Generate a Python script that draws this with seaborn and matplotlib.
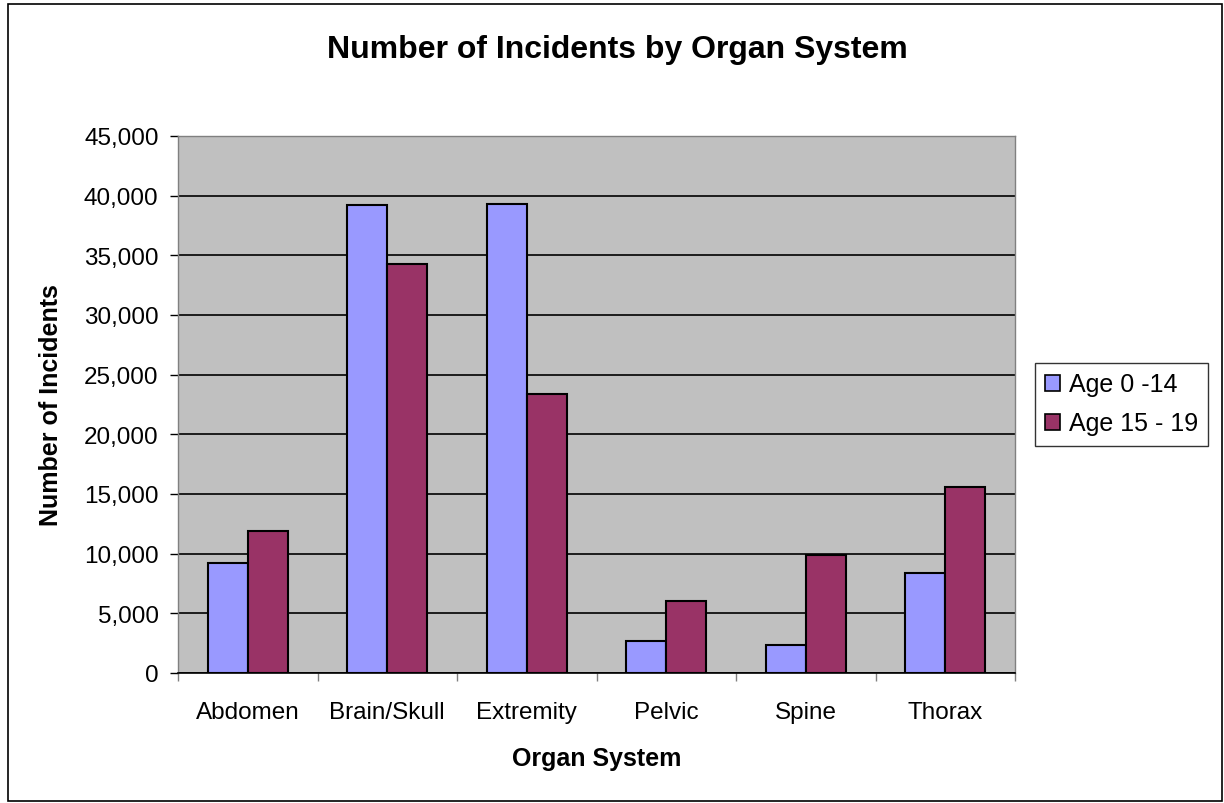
import matplotlib
matplotlib.use("Agg")
import matplotlib.pyplot as plt
import matplotlib.patches as mpatches
import matplotlib.ticker as mticker
import seaborn as sns
import pandas as pd

organs = ["Abdomen", "Brain/Skull", "Extremity", "Pelvic", "Spine", "Thorax"]
age_0_14 = [9200, 39200, 39300, 2700, 2350, 8400]
age_15_19 = [11900, 34300, 23400, 6000, 9900, 15600]
series = ["Age 0 -14", "Age 15 - 19"]
colors = ["#9999FF", "#993366"]

df = pd.DataFrame({
    "organ": organs * 2,
    "group": [series[0]] * len(organs) + [series[1]] * len(organs),
    "value": age_0_14 + age_15_19,
})

sns.set_style("white")
plt.rcParams["font.family"] = ["Liberation Sans", "DejaVu Sans"]
plt.rcParams["text.color"] = "black"
plt.rcParams["axes.labelcolor"] = "black"
plt.rcParams["xtick.color"] = "black"
plt.rcParams["ytick.color"] = "black"

fig = plt.figure(figsize=(12.24, 8.04), dpi=100)
ax = fig.add_axes([178/1224, 130/804, 837/1224, 537/804])
ax.set_facecolor("#C0C0C0")

sns.barplot(data=df, x="organ", y="value", hue="group", palette=colors,
            width=0.571, edgecolor="black", linewidth=1.5, saturation=1,
            ax=ax, zorder=3)

ax.set_ylim(0, 45000)
ax.set_xlim(-0.5, len(organs) - 0.5)
ax.yaxis.set_major_locator(mticker.MultipleLocator(5000))
ax.yaxis.set_major_formatter(mticker.FuncFormatter(lambda v, p: f"{int(v):,}"))
ax.grid(axis="y", color="black", linewidth=1.2, zorder=1)
ax.set_axisbelow(True)

# category boundary ticks on x axis
ax.set_xticks(range(len(organs)))
ax.set_xticklabels(organs, fontsize=17.5)
ax.tick_params(axis="x", which="major", bottom=False, length=0, pad=20)
ax.set_xticks([i - 0.5 for i in range(len(organs) + 1)], minor=True)
ax.tick_params(axis="x", which="minor", bottom=True, length=6, width=1,
               color="#808080", direction="out")
ax.tick_params(axis="y", left=True, labelsize=17.5, length=6, width=1,
               direction="out", color="black", pad=8)

for s in ["top", "right", "left"]:
    ax.spines[s].set_color("#808080")
    ax.spines[s].set_linewidth(1)
ax.spines["bottom"].set_color("black")
ax.spines["bottom"].set_linewidth(1.2)

ax.set_xlabel("Organ System", fontsize=18, fontweight="bold", labelpad=17)
ax.set_ylabel("Number of Incidents", fontsize=18, fontweight="bold", labelpad=15)
fig.text(617/1224, 1 - 50/804, "Number of Incidents by Organ System",
         ha="center", va="center", fontsize=23, fontweight="bold")

handles = [mpatches.Patch(facecolor=c, edgecolor="black", linewidth=1.2) for c in colors]
leg = ax.legend(handles, series, loc="center left", bbox_to_anchor=(1035/1224, 1 - 405/804),
                bbox_transform=fig.transFigure, fontsize=18, frameon=True, fancybox=False,
                handlelength=0.6, handleheight=0.6, handletextpad=0.35, borderpad=0.4,
                borderaxespad=0, labelspacing=0.6)
leg.get_frame().set_edgecolor("black")
leg.get_frame().set_linewidth(1)

fig.patches.append(mpatches.Rectangle((8/1224, 2/804), 1214/1224, 797/804,
                                      transform=fig.transFigure, fill=False,
                                      edgecolor="black", linewidth=1.2))

fig.savefig("out.png", dpi=100)
